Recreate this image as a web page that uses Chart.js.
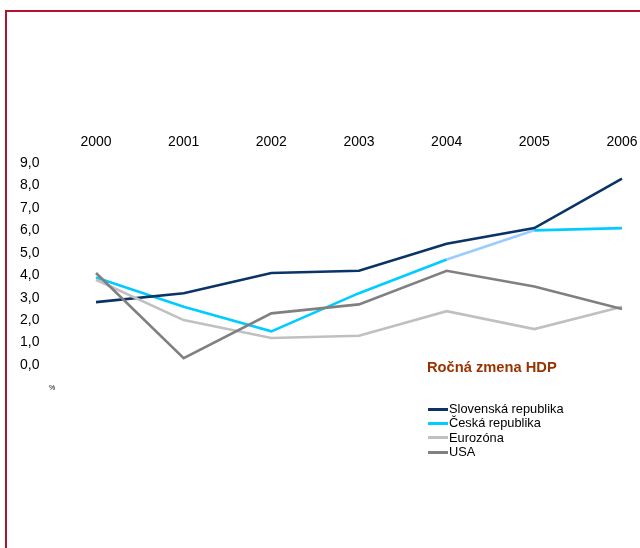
<!DOCTYPE html>
<html>
<head>
<meta charset="utf-8">
<script src="https://cdn.jsdelivr.net/npm/chart.js@4"></script>
<style>
  html, body { margin: 0; padding: 0; background: #fff; }
  body { width: 640px; height: 548px; position: relative; overflow: hidden;
         font-family: "Liberation Sans", Arial, sans-serif; }
  #frame { position: absolute; left: 5px; top: 10px; right: 0; bottom: -5px;
           border-top: 2px solid #b0122f; border-left: 2px solid #b0122f; }
  #wrap { position: absolute; left: 0; top: 0; width: 640px; height: 548px; }
  #title { position: absolute; left: 427px; top: 359px; font-size: 14.7px;
           font-weight: bold; color: #993300; white-space: nowrap; }
  #unit { position: absolute; left: 49px; top: 384px; font-size: 7px; color: #000; }
  #legend { position: absolute; left: 428px; top: 402px; font-size: 12.8px; color: #000; }
  .row { height: 14.3px; line-height: 14.3px; white-space: nowrap; display: flex; align-items: center; }
  .sw { display: inline-block; width: 20px; height: 3px; margin-right: 1px; }
</style>
</head>
<body>
<div id="frame"></div>
<div id="wrap"><canvas id="c" width="640" height="548"></canvas></div>
<div id="title">Ročná zmena HDP</div>
<div id="unit">%</div>
<div id="legend"></div>
<script>
// Annual GDP change (%), 2000–2006
const years = ["2000", "2001", "2002", "2003", "2004", "2005", "2006"];
const seriesNames = ["Slovenská republika", "Česká republika", "Eurozóna", "USA"];
const slovakia = [2.8, 3.2, 4.1, 4.2, 5.4, 6.1, 8.3];
const czechia  = [3.9, 2.6, 1.5, 3.2, 4.7, 6.0, 6.1];
const eurozone = [3.8, 2.0, 1.2, 1.3, 2.4, 1.6, 2.6];
const usa      = [4.1, 0.3, 2.3, 2.7, 4.2, 3.5, 2.5];
const yTicks   = [0, 1, 2, 3, 4, 5, 6, 7, 8, 9];

const colors = ["#0a3366", "#00ccff", "#c0c0c0", "#808080"];
const seriesData = [slovakia, czechia, eurozone, usa];

// draw order: lighter series underneath
const order = [2, 3, 1, 0];

const datasets = seriesNames.map((name, i) => ({
  label: name,
  data: seriesData[i],
  borderColor: colors[i],
  borderWidth: 2.6,
  pointRadius: 0,
  tension: 0,
  fill: false,
  order: order[i],
  segment: i === 1 ? {
    // the 2004–2005 stretch of the Czech line is drawn in a paler blue
    borderColor: ctx => ctx.p0DataIndex === 4 ? "#99ccff" : undefined
  } : undefined
}));

const font = { family: "'Liberation Sans', Arial, sans-serif", size: 14 };

new Chart(document.getElementById("c"), {
  type: "line",
  data: { labels: years, datasets },
  options: {
    responsive: false,
    animation: false,
    events: [],
    layout: { padding: { left: 20, right: 18, top: 130, bottom: 183 } },
    plugins: { legend: { display: false }, tooltip: { enabled: false }, title: { display: false } },
    scales: {
      x: {
        position: "top",
        offset: false,
        grid: { display: false, drawTicks: false },
        border: { display: false },
        ticks: { color: "#000", font, padding: 12, maxRotation: 0, autoSkip: false },
        afterFit: s => { s.height = 33; s.paddingLeft = 0; s.paddingRight = 0; }
      },
      y: {
        min: 0, max: 9,
        afterBuildTicks: s => { s.ticks = yTicks.map(v => ({ value: v })); },
        grid: { display: false, drawTicks: false },
        border: { display: false },
        ticks: {
          color: "#000", font, crossAlign: "far", padding: 0,
          callback: v => v.toFixed(1).replace(".", ",")
        },
        afterFit: s => { s.width = 76; s.paddingTop = 0; s.paddingBottom = 0; }
      }
    }
  }
});

// legend built from the series
const lg = document.getElementById("legend");
seriesNames.forEach((name, i) => {
  const row = document.createElement("div");
  row.className = "row";
  const sw = document.createElement("span");
  sw.className = "sw";
  sw.style.background = colors[i];
  row.appendChild(sw);
  row.appendChild(document.createTextNode(name));
  lg.appendChild(row);
});
</script>
</body>
</html>
